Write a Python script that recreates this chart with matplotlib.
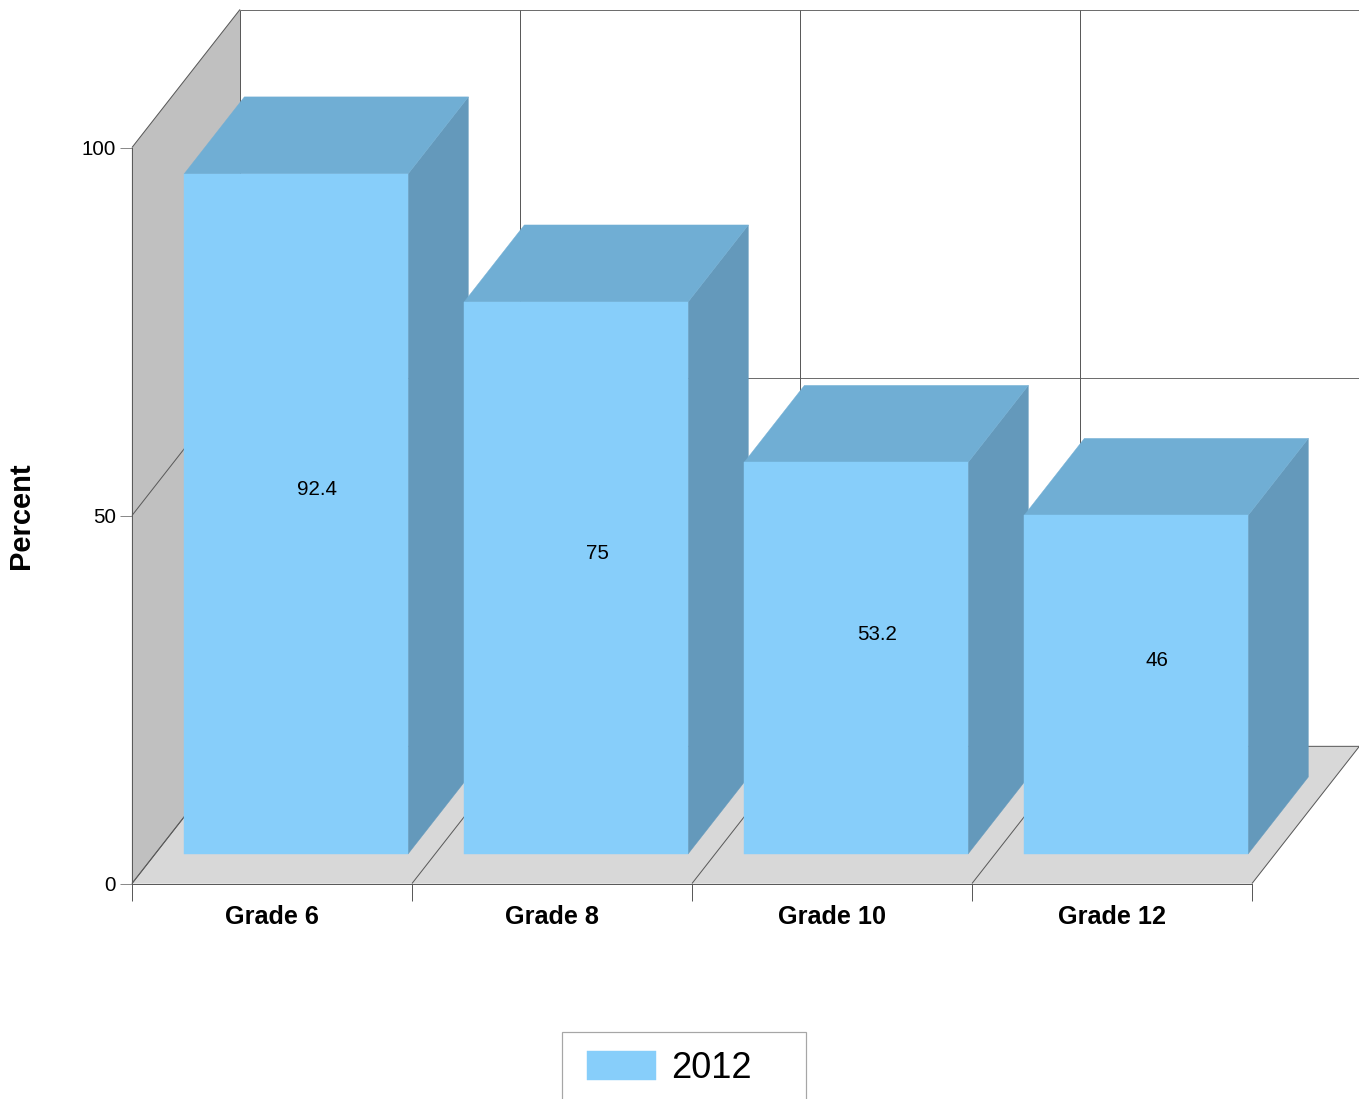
import matplotlib
matplotlib.use("Agg")
import matplotlib.pyplot as plt
from matplotlib.patches import Polygon, Patch, Rectangle

plt.rcParams['font.family'] = ['Liberation Sans', 'DejaVu Sans']

categories = ["Grade 6", "Grade 8", "Grade 10", "Grade 12"]
values = [92.4, 75, 53.2, 46]
value_labels = ["92.4", "75", "53.2", "46"]
y_ticks = [0, 50, 100]
series_name = "2012"
y_title = "Percent"

W, H = 1359, 1099
FRONT = "#87CEFA"
TOP = "#70AED4"
SIDE = "#6499BB"
WALL = "#C0C0C0"
FLOOR = "#D8D8D8"
LINE = "#5A5A5A"
LW = 0.72

fig = plt.figure(figsize=(W / 100, H / 100), dpi=100, facecolor="white")
ax = fig.add_axes([132 / W, 1 - 883.5 / H, 1120 / W, 736 / H])
ax.set_xlim(0, len(categories))
ax.set_ylim(0, 100)
ax.patch.set_visible(False)

n = len(categories)
PX = n / 1120
PY = 100 / 736
DEPTH_X = 108 * PX
DEPTH_Y = 138 * PY


def oblique(x, y, z):
    return (x + z * DEPTH_X, y + z * DEPTH_Y)


def face(pts, color, zorder, ec=None):
    ax.add_patch(Polygon(pts, closed=True, facecolor=color,
                         edgecolor=ec if ec else color, linewidth=0.3,
                         clip_on=False, zorder=zorder))


def line(p, q, zorder, color=LINE, lw=LW):
    ax.plot([p[0], q[0]], [p[1], q[1]], color=color, lw=lw,
            clip_on=False, zorder=zorder, solid_capstyle="butt")


# walls and floor
face([oblique(0, 0, 0), oblique(0, 100, 0), oblique(0, 100, 1), oblique(0, 0, 1)], WALL, 1)
face([oblique(0, 0, 0), oblique(n, 0, 0), oblique(n, 0, 1), oblique(0, 0, 1)], FLOOR, 1)

# grid: back wall and side wall
for t in y_ticks:
    line(oblique(0, t, 0), oblique(0, t, 1), 2)
    line(oblique(0, t, 1), oblique(n, t, 1), 2, color="#6E6E6E")
for i in range(n + 1):
    line(oblique(i, 0, 0), oblique(i, 0, 1), 2)
    line(oblique(i, 0, 1), oblique(i, 100, 1), 2)

# bars
Z0, Z1 = 0.214, 0.772
for i, v in enumerate(values):
    x0, x1 = i + 0.1035, i + 0.9035
    z = 10 + i
    face([oblique(x1, 0, Z0), oblique(x1, v, Z0), oblique(x1, v, Z1), oblique(x1, 0, Z1)], SIDE, z)
    face([oblique(x0, v, Z0), oblique(x1, v, Z0), oblique(x1, v, Z1), oblique(x0, v, Z1)], TOP, z)
    face([oblique(x0, 0, Z0), oblique(x1, 0, Z0), oblique(x1, v, Z0), oblique(x0, v, Z0)], FRONT, z + 0.1)
    ax.annotate(value_labels[i], oblique(i + 0.5, v / 2, 0.405), xytext=(1.0, -1.6),
                textcoords="offset points", ha="center", va="center", fontsize=14.8,
                color="black", zorder=30, annotation_clip=False)

# axes
for s in ("top", "right"):
    ax.spines[s].set_visible(False)
for s in ("left", "bottom"):
    ax.spines[s].set_color(LINE)
    ax.spines[s].set_linewidth(LW)
    ax.spines[s].set_zorder(40)
ax.set_yticks(y_ticks)
ax.set_yticklabels([str(t) for t in y_ticks], fontsize=14.8)
ax.tick_params(axis="y", length=8.6, width=LW, color="#8A8A8A", pad=2.9)
ax.set_xticks(range(n + 1))
ax.set_xticklabels([])
ax.tick_params(axis="x", which="major", length=12, width=LW, color=LINE)
ax.set_xticks([i + 0.5 for i in range(n)], minor=True)
ax.set_xticklabels(categories, minor=True, fontsize=18.2, fontweight="bold")
ax.tick_params(axis="x", which="minor", length=0, pad=15.5)
ax.set_ylabel(y_title, fontsize=21, fontweight="bold")
ax.yaxis.set_label_coords((35 - 132) / 1120, (883.5 - 516) / 736)

# legend
fig.add_artist(Rectangle((562 / W, 1 - 1110 / H), 244 / W, 78 / H, transform=fig.transFigure,
                         facecolor="white", edgecolor="#A6A6A6", linewidth=LW * 1.2))
leg = fig.legend(handles=[Patch(facecolor=FRONT, edgecolor=FRONT, linewidth=0.3, label=series_name)],
                 loc="upper left", bbox_to_anchor=(587 / W, 1 - 1051 / H),
                 frameon=False, fontsize=26, borderpad=0, borderaxespad=0,
                 handlelength=1.92, handleheight=0.86, handletextpad=0.41)
leg.set_zorder(5)

fig.savefig("out.png", dpi=100, facecolor="white")
